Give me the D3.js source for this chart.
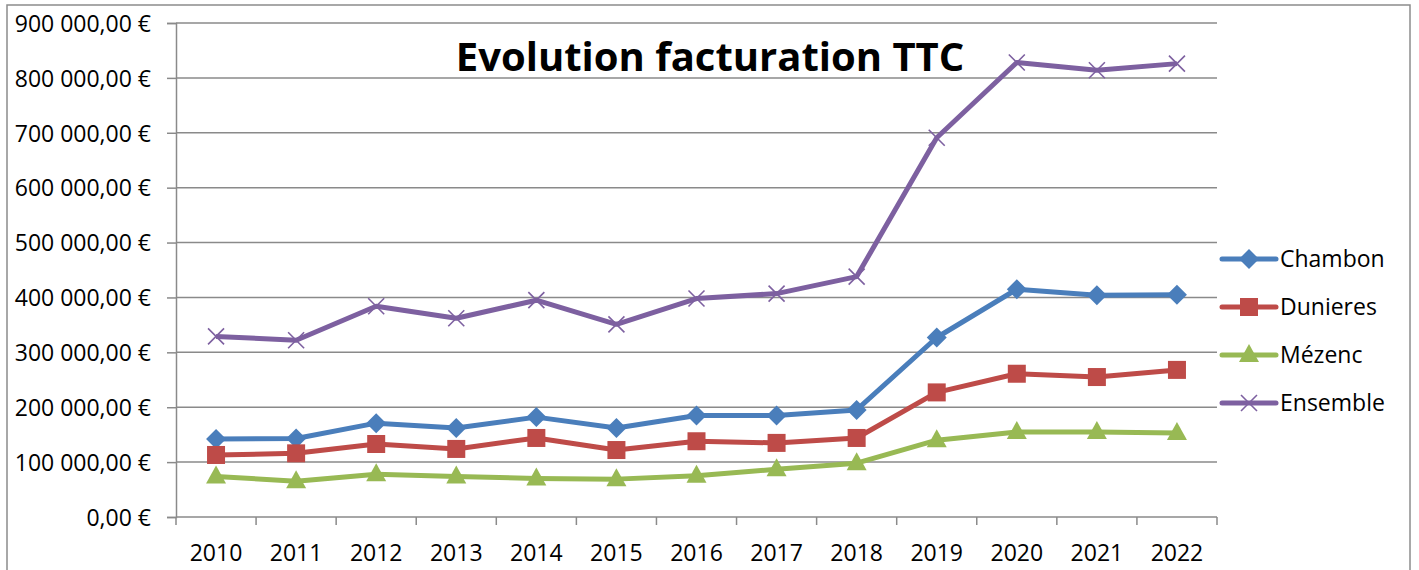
<!DOCTYPE html>
<html><head><meta charset="utf-8">
<script src="https://cdn.jsdelivr.net/npm/d3@7"></script>
<style>body{margin:0;background:#fff;} svg{display:block;}</style>
</head><body>
<script>
const years = ["2010","2011","2012","2013","2014","2015","2016","2017","2018","2019","2020","2021","2022"];
const chambon  = [142000,143000,171000,162000,182000,162000,185000,185000,195000,327000,415000,404000,405000];
const dunieres = [113000,116000,133000,124000,144000,122000,138000,135000,144000,227000,261000,255000,268000];
const mezenc   = [74000,65000,78000,74000,70000,69000,75000,87000,98000,140000,155000,155000,153000];
const ensemble = [329000,322000,384000,362000,395000,351000,398000,407000,438000,691000,828000,814000,826000];
const yTicks = [0,100000,200000,300000,400000,500000,600000,700000,800000,900000];
const seriesNames = ["Chambon","Dunieres","Mézenc","Ensemble"];
const colors = ["#4A7EBB","#BE4B48","#98B954","#7D60A0"];
const markers = ["diamond","square","triangle","x"];
const title = "Evolution facturation TTC";

const W=1419,H=570;
const svg=d3.select("body").append("svg").attr("width",W).attr("height",H);
svg.append("rect").attr("x",7).attr("y",5).attr("width",1403).attr("height",580)
  .attr("fill","#fff").attr("stroke","#8c8c8c").attr("stroke-width",1.5);

const L=176,R=1217,T=23,B=517;
const x=d3.scaleBand().domain(years).range([L,R]);
const y=d3.scaleLinear().domain([0,900000]).range([B,T]);
const font="'Open Sans', sans-serif";
const fs=23;

// grid
svg.append("g").selectAll("line").data(yTicks.filter(d=>d>0)).join("line")
  .attr("x1",L).attr("x2",R).attr("y1",d=>y(d)).attr("y2",d=>y(d))
  .attr("stroke","#8a8a8a").attr("stroke-width",1.5);

const fmt=v=>{const s=d3.format(",.2f")(v).replace(/,/g," ").replace(".",",");return s+" €";};
const yAxis=svg.append("g").attr("transform",`translate(${L},0)`)
  .call(d3.axisLeft(y).tickValues(yTicks).tickSize(9).tickPadding(16).tickFormat(fmt));
yAxis.select(".domain").attr("stroke","#8a8a8a").attr("stroke-width",1.5);
yAxis.selectAll(".tick line").attr("stroke","#8a8a8a").attr("stroke-width",1.5);
yAxis.selectAll("text").attr("font-family",font).attr("font-size",fs).attr("fill","#000").attr("dy","0.36em");

const xAxisG=svg.append("g").attr("transform",`translate(0,${B})`);
xAxisG.append("line").attr("x1",L).attr("x2",R).attr("stroke","#8a8a8a").attr("stroke-width",1.5);
const bounds=years.map(d=>x(d)).concat([R]);
xAxisG.selectAll("line.tk").data(bounds).join("line").attr("class","tk")
  .attr("x1",d=>d).attr("x2",d=>d).attr("y1",0).attr("y2",8).attr("stroke","#8a8a8a").attr("stroke-width",1.5);
xAxisG.selectAll("text").data(years).join("text")
  .attr("x",d=>x(d)+x.bandwidth()/2).attr("y",44).attr("text-anchor","middle")
  .attr("font-family",font).attr("font-size",fs).attr("fill","#000").text(d=>d);

const data=[chambon,dunieres,mezenc,ensemble];
function drawMarker(g,type,color,cx,cy){
  if(type==="diamond"){
    g.append("path").attr("d",`M${cx},${cy-10}L${cx+10},${cy}L${cx},${cy+10}L${cx-10},${cy}Z`).attr("fill",color);
  }else if(type==="square"){
    g.append("rect").attr("x",cx-9).attr("y",cy-9).attr("width",18).attr("height",18).attr("fill",color);
  }else if(type==="triangle"){
    g.append("path").attr("d",`M${cx},${cy-11}L${cx+10},${cy+7}L${cx-10},${cy+7}Z`).attr("fill",color);
  }else{
    g.append("path").attr("d",`M${cx-8},${cy-8}L${cx+8},${cy+8}M${cx-8},${cy+8}L${cx+8},${cy-8}`)
      .attr("stroke",color).attr("stroke-width",1.6).attr("fill","none");
  }
}
const line=d3.line().x((d,i)=>x(years[i])+x.bandwidth()/2).y(d=>y(d));
data.forEach((vals,k)=>{
  const g=svg.append("g");
  g.append("path").attr("d",line(vals)).attr("fill","none").attr("stroke",colors[k])
    .attr("stroke-width",5).attr("stroke-linejoin","round");
  vals.forEach((v,i)=>drawMarker(g,markers[k],colors[k],x(years[i])+x.bandwidth()/2,y(v)));
});

// legend
const legY=[259,307,355,403];
seriesNames.forEach((n,k)=>{
  const g=svg.append("g");
  g.append("line").attr("x1",1222).attr("x2",1276).attr("y1",legY[k]).attr("y2",legY[k])
    .attr("stroke",colors[k]).attr("stroke-width",5).attr("stroke-linecap","round");
  drawMarker(g,markers[k],colors[k],1249,legY[k]);
  g.append("text").attr("x",1280).attr("y",legY[k]).attr("dy","0.36em")
    .attr("font-family",font).attr("font-size",fs).attr("fill","#000").text(n);
});

svg.append("text").attr("x",710).attr("y",71).attr("text-anchor","middle")
  .attr("font-family",font).attr("font-weight","bold").attr("font-size",40).attr("fill","#000").text(title);
</script>
</body></html>
